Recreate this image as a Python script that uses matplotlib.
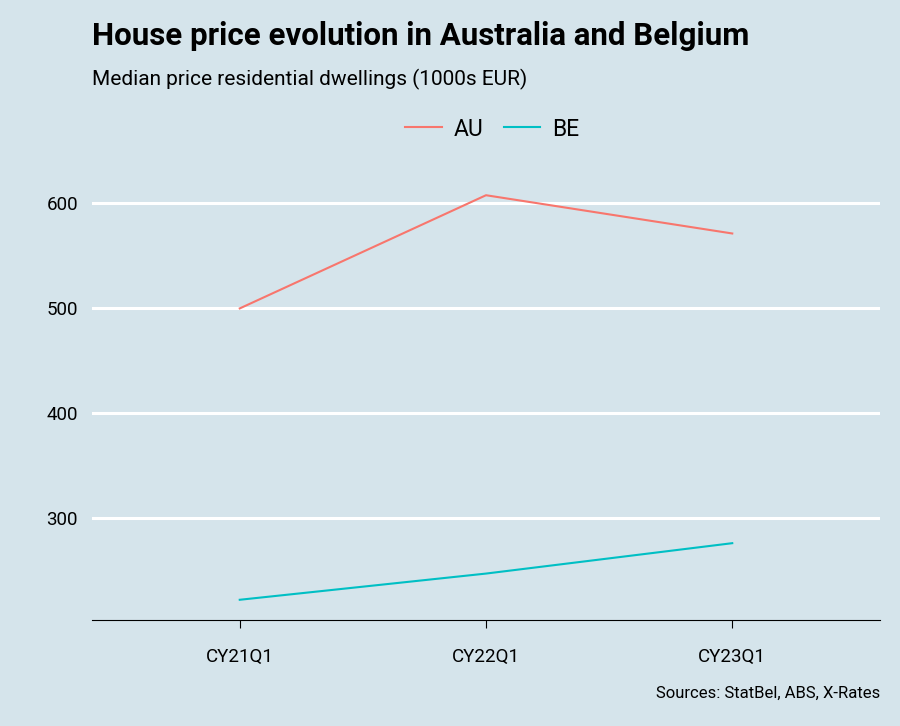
import matplotlib.pyplot as plt
import numpy as np

# dados
quarters = ['CY21Q1', 'CY22Q1', 'CY23Q1']
au = [499.5, 607.5, 571.0]
be = [221.5, 246.5, 275.5]
yticks = [300, 400, 500, 600]

bg = '#d5e4eb'
plt.rcParams['font.family'] = ['Roboto', 'DejaVu Sans']

fig = plt.figure(figsize=(9, 7.26), dpi=100, facecolor=bg)
ax = fig.add_axes([92/900, 106/726, 788/900, 445/726], facecolor=bg)

x = np.arange(1, len(quarters) + 1)
ax.plot(x, au, color='#f8766d', lw=1.5, label='AU')
ax.plot(x, be, color='#00bfc4', lw=1.5, label='BE')

lo = min(be) - 0.05 * (max(au) - min(be))
hi = max(au) + 0.05 * (max(au) - min(be))
ax.set_ylim(lo, hi)
ax.set_xlim(0.4, 3.6)
ax.set_xticks(x)
ax.set_xticklabels(quarters)
ax.set_yticks(yticks)
ax.yaxis.grid(True, color='white', lw=2.2)
ax.set_axisbelow(True)
for s in ['top', 'right', 'left']:
    ax.spines[s].set_visible(False)
ax.spines['bottom'].set_color('black')
ax.tick_params(axis='y', length=0, labelsize=13.5, pad=10)
ax.tick_params(axis='x', length=6, labelsize=13.5, pad=14)

fig.text(92/900, 1 - 36/726, 'House price evolution in Australia and Belgium',
         fontsize=22.5, fontweight='bold', va='center')
fig.text(92/900, 1 - 79/726, 'Median price residential dwellings (1000s EUR)',
         fontsize=15, va='center')
fig.legend(loc='center', bbox_to_anchor=(492/900, 1 - 129/726), ncol=2, frameon=False,
           fontsize=16.5, handlelength=1.6, columnspacing=0.9, handletextpad=0.5)
fig.text(880/900, 1 - 693/726, 'Sources: StatBel, ABS, X-Rates', fontsize=12,
         ha='right', va='center')

fig.savefig('out.png', facecolor=bg)
